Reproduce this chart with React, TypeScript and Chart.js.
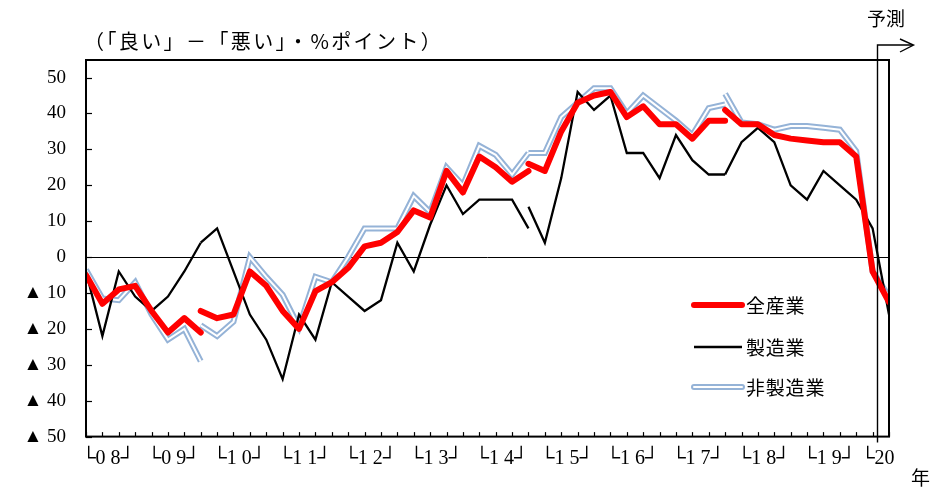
import React, { useEffect, useRef } from 'react';
import { Chart, registerables } from 'chart.js';

Chart.register(...registerables);

// Quarter index 0 = 2008 Q1 ... 49 = forecast quarter
const QUARTER_COUNT = 50;
const yearLabels = ['└0 8┘', '└0 9┘', '└1 0┘', '└1 1┘', '└1 2┘', '└1 3┘', '└1 4┘', '└1 5┘', '└1 6┘', '└1 7┘', '└1 8┘', '└1 9┘', '└20'];
const yTickValues = [50, 40, 30, 20, 10, 0, -10, -20, -30, -40, -50];

const _ = null;
// 全産業 (sample segments 1 & 3, segments 2 & 4)
const allOld = [-5, -13, -9, -8, -15, -21, -17, -21, _, _, _, _, _, _, _, _, _, _, _, _, _, _, _, _, _, _, _, 26, 24, 35, 43, 45, 46, 39, 42, 37, 37, 33, 38, 38, _, _, _, _, _, _, _, _, _, _];
const allNew = [_, _, _, _, _, _, _, -15, -17, -16, -4, -8, -15, -20, -9.5, -7, -3, 3, 4, 7, 13, 11, 24, 18, 28, 25, 21, 24, _, _, _, _, _, _, _, _, _, _, _, 41, 37, 37, 34, 33, 32.5, 32, 32, 28, -4, -12.5];
// 製造業
const mfgOld = [-4, -22, -4, -11, -15, -11, -4, 4, _, _, _, _, _, _, _, _, _, _, _, _, _, _, _, _, _, _, _, 14, 4, 22, 46, 41, 45, 29, 29, 22, 34, 27, 23, 23, _, _, _, _, _, _, _, _, _, _];
const mfgNew = [_, _, _, _, _, _, _, 4, 8, -4, -16, -23, -34, -16, -23, -7, -11, -15, -12, 4, -4, 9, 20, 12, 16, 16, 16, 8, _, _, _, _, _, _, _, _, _, _, _, 23, 32, 36, 32, 20, 16, 24, 20, 16, 8, -16];
// 非製造業
const nonOld = [-3.5, -11.5, -12, -7, -16, -23, -20, -29, _, _, _, _, _, _, _, _, _, _, _, _, _, _, _, _, _, _, _, 29, 29, 39, 43, 47, 47, 40, 45, 41.5, 38, 34, 41.5, 42.5, _, _, _, _, _, _, _, _, _, _];
const nonNew = [_, _, _, _, _, _, _, -19, -22, -18, 0, -5.5, -10.5, -19.5, -5.5, -7, 0, 8, 8, 8, 17, 12.5, 25, 20, 31, 28.5, 23, 29, _, _, _, _, _, _, _, _, _, _, _, 45.5, 37.5, 37, 35.5, 36.5, 36.5, 36, 35.5, 29.5, -4, -11];

const legendItems = ['全産業', '製造業', '非製造業'];
const TITLE = '（「良い」－「悪い」・%ポイント）';
const FORECAST_LABEL = '予測';
const YEAR_UNIT = '年';

const RED = '#FF0000';
const BLUE = '#95B3D7';
const JP = '"Noto Sans CJK JP", sans-serif';
const SERIF = '"Liberation Serif", "DejaVu Sans", serif';

const toPts = (arr: (number | null)[]) => arr.map((v, i) => ({ x: i, y: v }));

const decor = {
  id: 'decor',
  beforeDatasetsDraw(chart: any) {
    const { ctx, chartArea, scales } = chart;
    const y0 = Math.round(scales.y.getPixelForValue(0)) + 0.5;
    ctx.save();
    ctx.strokeStyle = '#000';
    ctx.lineWidth = 1;
    ctx.beginPath();
    ctx.moveTo(chartArea.left, y0);
    ctx.lineTo(chartArea.right, y0);
    ctx.stroke();
    ctx.restore();
  },
  afterDatasetsDraw(chart: any) {
    const { ctx, chartArea, scales } = chart;
    const { left, right, top, bottom } = chartArea;
    const xs = scales.x;
    const ys = scales.y;
    ctx.save();
    ctx.strokeStyle = '#000';
    // frame
    ctx.lineWidth = 2;
    ctx.strokeRect(left, top, right - left, bottom - top);
    // y tick marks (inward)
    ctx.lineWidth = 1.2;
    for (const v of yTickValues) {
      const py = Math.round(ys.getPixelForValue(v)) + 0.5;
      ctx.beginPath();
      ctx.moveTo(left, py);
      ctx.lineTo(left + 6, py);
      ctx.stroke();
    }
    // x tick marks (inward)
    for (let i = 0; i < QUARTER_COUNT; i++) {
      const px = Math.round(xs.getPixelForValue(i)) + 0.5;
      ctx.beginPath();
      ctx.moveTo(px, bottom);
      ctx.lineTo(px, bottom - 4.5);
      ctx.stroke();
    }
    // forecast marker
    const fx = Math.round(xs.getPixelForValue(48.25)) + 0.5;
    ctx.lineWidth = 1.4;
    ctx.beginPath();
    ctx.moveTo(fx, bottom + 6);
    ctx.lineTo(fx, 45);
    ctx.lineTo(913, 45);
    ctx.stroke();
    ctx.beginPath();
    ctx.moveTo(900, 39);
    ctx.lineTo(913.5, 45);
    ctx.lineTo(900, 52);
    ctx.stroke();

    // texts
    ctx.fillStyle = '#000';
    ctx.textBaseline = 'middle';
    ctx.textAlign = 'left';
    ctx.font = `20px ${JP}`;
    (ctx as any).letterSpacing = '2.4px';
    ctx.fillText(TITLE, 84, 41);
    (ctx as any).letterSpacing = '0px';
    ctx.font = `19px ${JP}`;
    ctx.fillText(FORECAST_LABEL, 867, 19);
    ctx.fillText(YEAR_UNIT, 911, 478);

    // legend
    const lx0 = 694, lx1 = 742, tx = 746;
    const rows = [305, 347, 387];
    ctx.lineCap = 'round';
    ctx.strokeStyle = RED;
    ctx.lineWidth = 6;
    ctx.beginPath(); ctx.moveTo(lx0, rows[0]); ctx.lineTo(lx1, rows[0]); ctx.stroke();
    ctx.lineCap = 'butt';
    ctx.strokeStyle = '#000';
    ctx.lineWidth = 2.3;
    ctx.beginPath(); ctx.moveTo(lx0, rows[1]); ctx.lineTo(lx1, rows[1]); ctx.stroke();
    ctx.lineCap = 'round';
    ctx.strokeStyle = BLUE;
    ctx.lineWidth = 6;
    ctx.beginPath(); ctx.moveTo(lx0, rows[2]); ctx.lineTo(lx1, rows[2]); ctx.stroke();
    ctx.strokeStyle = '#fff';
    ctx.lineWidth = 2;
    ctx.beginPath(); ctx.moveTo(lx0, rows[2]); ctx.lineTo(lx1, rows[2]); ctx.stroke();
    ctx.fillStyle = '#000';
    ctx.font = `19px ${JP}`;
    (ctx as any).letterSpacing = '0.8px';
    legendItems.forEach((t, i) => ctx.fillText(t, tx, rows[i] + 1));
    ctx.restore();
  },
};

export default function App() {
  const ref = useRef<HTMLCanvasElement | null>(null);
  useEffect(() => {
    document.body.style.margin = '0';
    document.body.style.overflow = 'hidden';
    const red = { borderColor: RED, borderWidth: 6, borderJoinStyle: 'round', borderCapStyle: 'round' };
    const black = { borderColor: '#000', borderWidth: 2.3, borderJoinStyle: 'miter' };
    const blueIn = { borderColor: '#FFFFFF', borderWidth: 2, borderJoinStyle: 'miter' };
    const blueOut = { borderColor: BLUE, borderWidth: 6, borderJoinStyle: 'miter' };
    const common = { pointRadius: 0, tension: 0, spanGaps: false, fill: false };
    const chart = new Chart(ref.current as HTMLCanvasElement, {
      type: 'line',
      data: {
        datasets: [
          { label: legendItems[0], data: toPts(allOld), ...common, ...red },
          { label: legendItems[0], data: toPts(allNew), ...common, ...red },
          { label: legendItems[1], data: toPts(mfgOld), ...common, ...black },
          { label: legendItems[1], data: toPts(mfgNew), ...common, ...black },
          { label: legendItems[2], data: toPts(nonOld), ...common, ...blueIn },
          { label: legendItems[2], data: toPts(nonNew), ...common, ...blueIn },
          { label: legendItems[2], data: toPts(nonOld), ...common, ...blueOut },
          { label: legendItems[2], data: toPts(nonNew), ...common, ...blueOut },
        ] as any,
      },
      options: {
        animation: false,
        responsive: false,
        layout: { padding: { left: 0, right: 44, top: 60, bottom: 0 } },
        plugins: { legend: { display: false }, tooltip: { enabled: false } },
        scales: {
          x: {
            type: 'linear',
            min: 0,
            max: QUARTER_COUNT - 1,
            border: { display: false },
            grid: { display: false, drawTicks: false },
            afterBuildTicks: (scale: any) => {
              scale.ticks = yearLabels.map((_t, k) => ({ value: k < 12 ? 4 * k + 1.35 : 48.3 }));
            },
            afterFit: (scale: any) => { scale.height = 57.4; },
            ticks: {
              autoSkip: false,
              maxRotation: 0,
              padding: 10,
              color: '#000',
              font: { family: SERIF, size: 20 },
              callback: (_v: any, i: number) => yearLabels[i],
            },
          },
          y: {
            min: -50,
            max: 54.9,
            border: { display: false },
            grid: { display: false, drawTicks: false },
            afterBuildTicks: (scale: any) => {
              scale.ticks = yTickValues.map((v) => ({ value: v }));
            },
            afterFit: (scale: any) => { scale.width = 86; },
            ticks: {
              padding: 20,
              color: '#000',
              font: { family: SERIF, size: 19 },
              callback: (v: any) => (v < 0 ? '▲ ' + -v : String(v)),
            },
          },
        },
      } as any,
      plugins: [decor],
    });
    return () => chart.destroy();
  }, []);
  return (
    <div style={{ width: 933, height: 494 }}>
      <canvas ref={ref} width={933} height={494} style={{ display: 'block' }} />
    </div>
  );
}
